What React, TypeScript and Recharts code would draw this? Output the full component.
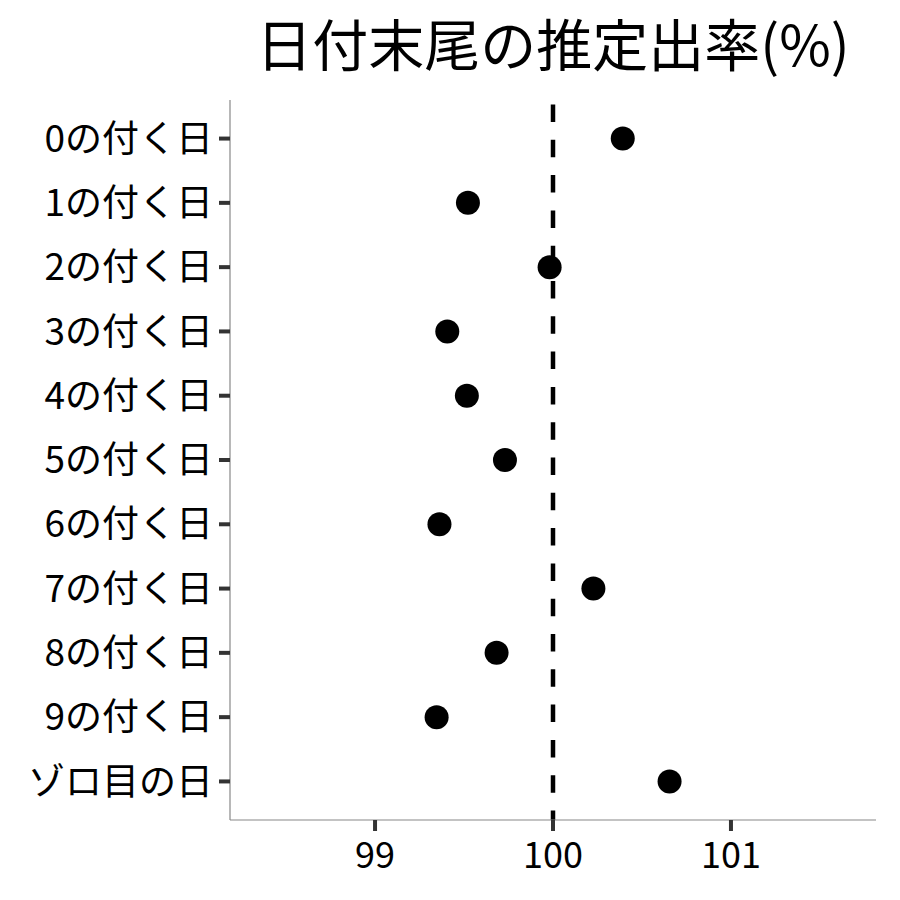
import React from 'react';
import { ScatterChart, Scatter, XAxis, YAxis, ReferenceLine } from 'recharts';

// 日付末尾ごとの推定出率
const categories = [
  '0の付く日', '1の付く日', '2の付く日', '3の付く日', '4の付く日', '5の付く日',
  '6の付く日', '7の付く日', '8の付く日', '9の付く日', 'ゾロ目の日',
];
const rates = [100.392, 99.522, 99.981, 99.406, 99.516, 99.73, 99.362, 100.227, 99.683, 99.346, 100.655];
const xTicks = [99, 100, 101];

const FONT = '"Noto Sans CJK JP", "Noto Sans", sans-serif';

const data = categories.map((name, i) => ({ name, idx: i, rate: rates[i] }));

const Dot = (props: any) => <circle cx={props.cx} cy={props.cy} r={12} fill="#000" />;

export default function App() {
  return (
    <div style={{ position: 'absolute', left: 0, top: 0, width: 900, height: 900, background: '#fff' }}>
      <div
        style={{
          position: 'absolute', left: 230, top: 14, width: 646, textAlign: 'center',
          fontFamily: FONT, fontSize: 56, lineHeight: '56px', color: '#000', whiteSpace: 'nowrap',
        }}
      >
        日付末尾の推定出率(%)
      </div>
      <ScatterChart width={900} height={900} margin={{ top: 100, right: 24, bottom: 20, left: 30 }} style={{ fontFamily: FONT }}>
        <XAxis
          type="number"
          dataKey="rate"
          domain={[98.185, 101.815]}
          ticks={xTicks}
          allowDataOverflow
          height={60}
          tickSize={11}
          tickMargin={11}
          axisLine={{ stroke: '#888', strokeWidth: 1.2 }}
          tickLine={{ stroke: '#333', strokeWidth: 4 }}
          tick={{ fontSize: 36, fill: '#000', fontFamily: FONT }}
        />
        <YAxis
          type="number"
          dataKey="idx"
          domain={[-0.6, 10.6]}
          ticks={categories.map((_, i) => i)}
          tickFormatter={(v: number) => categories[v]}
          reversed
          allowDataOverflow
          interval={0}
          width={200}
          tickSize={11}
          tickMargin={6}
          axisLine={{ stroke: '#888', strokeWidth: 1.2 }}
          tickLine={{ stroke: '#333', strokeWidth: 4 }}
          tick={{ fontSize: 37, fill: '#000', fontFamily: FONT }}
        />
        <ReferenceLine x={100} stroke="#000" strokeWidth={4.5} strokeDasharray="17.5 17.8" strokeDashoffset={8} />
        <Scatter data={data} shape={<Dot />} isAnimationActive={false} />
      </ScatterChart>
    </div>
  );
}
